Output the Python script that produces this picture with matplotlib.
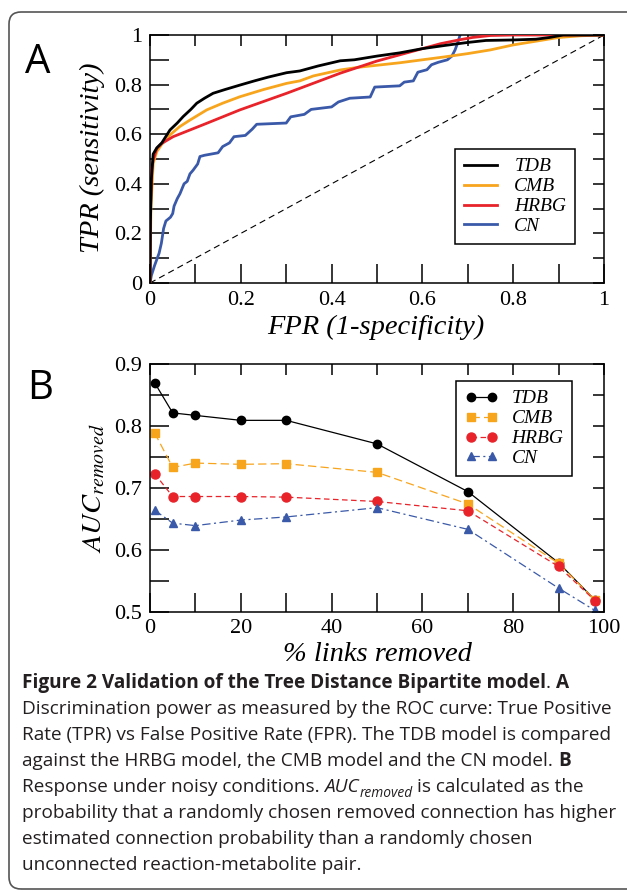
import matplotlib
matplotlib.use('Agg')
import matplotlib.pyplot as plt
from matplotlib.patches import FancyBboxPatch
from matplotlib.transforms import IdentityTransform

# ---- Panel A: ROC curves ----
tdb_fpr = [0, 0.001, 0.003, 0.007, 0.015, 0.026, 0.044, 0.06, 0.073, 0.09, 0.103, 0.12, 0.139,
           0.165, 0.198, 0.23, 0.26, 0.301, 0.33, 0.37, 0.419, 0.45, 0.5, 0.55, 0.6, 0.65, 0.7,
           0.74, 0.8, 0.85, 0.88, 0.91, 1.0]
tdb_tpr = [0, 0.25, 0.42, 0.52, 0.545, 0.565, 0.617, 0.645, 0.671, 0.7, 0.725, 0.745, 0.765,
           0.78, 0.798, 0.815, 0.83, 0.848, 0.855, 0.875, 0.896, 0.9, 0.915, 0.928, 0.945, 0.958,
           0.97, 0.978, 0.98, 0.983, 0.99, 1.0, 1.0]

cmb_fpr = [0, 0.002, 0.007, 0.015, 0.026, 0.044, 0.065, 0.088, 0.125, 0.16, 0.198, 0.25, 0.301,
           0.33, 0.36, 0.419, 0.46, 0.5, 0.55, 0.6, 0.65, 0.7, 0.75, 0.8, 0.85, 0.9, 0.95, 1.0]
cmb_tpr = [0, 0.3, 0.483, 0.53, 0.56, 0.597, 0.63, 0.657, 0.698, 0.725, 0.751, 0.78, 0.805,
           0.815, 0.835, 0.859, 0.87, 0.878, 0.888, 0.9, 0.912, 0.925, 0.94, 0.96, 0.975, 0.99,
           0.997, 1.0]

hrbg_fpr = [0, 0.001, 0.004, 0.007, 0.015, 0.026, 0.051, 0.088, 0.125, 0.198, 0.301, 0.419,
            0.5, 0.55, 0.6, 0.64, 0.68, 0.71, 0.75, 0.8, 1.0]
hrbg_tpr = [0, 0.3, 0.46, 0.496, 0.543, 0.563, 0.59, 0.617, 0.644, 0.698, 0.765, 0.846,
            0.895, 0.92, 0.945, 0.965, 0.98, 0.99, 0.998, 1.0, 1.0]

cn_fpr = [0, 0.003, 0.01, 0.02, 0.025, 0.03, 0.035, 0.045, 0.05, 0.053, 0.06, 0.066, 0.075,
          0.082, 0.088, 0.095, 0.105, 0.11, 0.12, 0.15, 0.16, 0.175, 0.185, 0.21, 0.225, 0.235,
          0.3, 0.31, 0.34, 0.355, 0.4, 0.415, 0.44, 0.485, 0.495, 0.55, 0.56, 0.58, 0.59, 0.61,
          0.62, 0.635, 0.655, 0.665, 0.672, 0.678, 0.683]
cn_tpr = [0, 0.03, 0.07, 0.12, 0.16, 0.22, 0.25, 0.265, 0.28, 0.31, 0.34, 0.36, 0.4,
          0.41, 0.44, 0.455, 0.48, 0.51, 0.515, 0.525, 0.55, 0.565, 0.59, 0.595, 0.62, 0.64,
          0.645, 0.67, 0.68, 0.7, 0.71, 0.73, 0.745, 0.75, 0.79, 0.795, 0.81, 0.815, 0.85, 0.86,
          0.88, 0.89, 0.9, 0.915, 0.94, 0.97, 1.0]

# ---- Panel B: AUC under link removal ----
removed_pct = [1, 5, 10, 20, 30, 50, 70, 90, 98]
auc_tdb = [0.870, 0.821, 0.817, 0.809, 0.809, 0.771, 0.694, 0.579, 0.519]
auc_cmb = [0.789, 0.733, 0.740, 0.738, 0.739, 0.725, 0.674, 0.578, 0.519]
auc_hrbg = [0.723, 0.686, 0.686, 0.686, 0.685, 0.678, 0.663, 0.573, 0.518]
auc_cn = [0.664, 0.643, 0.639, 0.648, 0.653, 0.668, 0.633, 0.538, 0.502]

model_names = ['TDB', 'CMB', 'HRBG', 'CN']

roc_ticks = [0, 0.2, 0.4, 0.6, 0.8, 1]
roc_ticklabels = ['0', '0.2', '0.4', '0.6', '0.8', '1']
pct_ticks = [0, 20, 40, 60, 80, 100]
auc_ticks = [0.5, 0.6, 0.7, 0.8, 0.9]
auc_ticklabels = ['0.5', '0.6', '0.7', '0.8', '0.9']

caption = [
    [("Figure 2 Validation of the Tree Distance Bipartite model", 'b'), (". ", 'n'), ("A", 'b')],
    [("Discrimination power as measured by the ROC curve: True Positive", 'n')],
    [("Rate (TPR) vs False Positive Rate (FPR). The TDB model is compared", 'n')],
    [("against the HRBG model, the CMB model and the CN model. ", 'n'), ("B", 'b')],
    [("Response under noisy conditions. ", 'n'), ("AUC", 'i'), ("removed", 'sub'),
     (" is calculated as the", 'n')],
    [("probability that a randomly chosen removed connection has higher", 'n')],
    [("estimated connection probability than a randomly chosen", 'n')],
    [("unconnected reaction-metabolite pair.", 'n')],
]

colors = {'TDB': 'black', 'CMB': '#F8A51E', 'HRBG': '#E8232A', 'CN': '#3A59A8'}
SERIF = 'Liberation Serif'
SANS = 'Open Sans'

plt.rcParams['font.family'] = SERIF
plt.rcParams['mathtext.fontset'] = 'stix'
plt.rcParams['lines.scale_dashes'] = False

W, H = 627, 893
fig = plt.figure(figsize=(W / 100, H / 100), dpi=100)


def fx(x):
    return x / W


def fy(y):
    return 1 - y / H


def style_axes(ax, xt, xminor, yt, yminor):
    ax.set_xticks(xt)
    ax.set_xticks(xminor, minor=True)
    ax.set_yticks(yt)
    ax.set_yticks(yminor, minor=True)
    ax.tick_params(which='both', direction='in', top=True, right=True, length=14, width=1.1,
                   labelsize=16, pad=5.5)
    for sp in ax.spines.values():
        sp.set_linewidth(1.1)
    # shorter ticks on top / right side
    ticks = (ax.xaxis.get_major_ticks() + ax.xaxis.get_minor_ticks() +
             ax.yaxis.get_major_ticks() + ax.yaxis.get_minor_ticks())
    for t in ticks:
        t.tick2line.set_markersize(8)


# ---- A ----
axA = fig.add_axes([fx(150), fy(283), (604 - 150) / W, (283 - 35) / H])
axA.plot([0, 1], [0, 1], color='black', lw=0.8, ls=(0, (4.5, 3)))
axA.plot(tdb_fpr, tdb_tpr, color=colors['TDB'], lw=2.0, label='TDB', zorder=4)
axA.plot(cmb_fpr, cmb_tpr, color=colors['CMB'], lw=2.0, label='CMB', zorder=3)
axA.plot(hrbg_fpr, hrbg_tpr, color=colors['HRBG'], lw=2.0, label='HRBG', zorder=3.5)
axA.plot(cn_fpr, cn_tpr, color=colors['CN'], lw=2.0, label='CN', zorder=2)
axA.set_xlim(0, 1)
axA.set_ylim(0, 1)
style_axes(axA, roc_ticks, [0.1, 0.3, 0.5, 0.7, 0.9], roc_ticks, [0.1, 0.3, 0.5, 0.7, 0.9])
axA.set_xticklabels(roc_ticklabels)
axA.set_yticklabels(roc_ticklabels)
legA = axA.legend(loc='upper left', bbox_to_anchor=(0.672, 0.54), borderaxespad=0,
                  prop={'family': SERIF, 'style': 'italic', 'size': 14}, frameon=True,
                  fancybox=False, framealpha=1, edgecolor='black', handlelength=1.7,
                  handletextpad=0.9, labelspacing=0.12, borderpad=0.45)
legA.get_frame().set_linewidth(1.1)

fig.text(fx(99), fy(158), 'TPR (sensitivity)', rotation=90, rotation_mode='anchor',
         ha='center', va='baseline', fontsize=20.5, style='italic')
fig.text(fx(376), fy(334), 'FPR (1-specificity)', ha='center', va='baseline',
         fontsize=20.5, style='italic')

# ---- B ----
axB = fig.add_axes([fx(150), fy(611.7), (604 - 150) / W, (611.7 - 364) / H])
axB.plot(removed_pct, auc_tdb, color=colors['TDB'], lw=0.9, marker='o', ms=6, label='TDB')
axB.plot(removed_pct, auc_cmb, color=colors['CMB'], lw=0.9, ls=(0, (6, 3)), marker='s', ms=5.5,
         label='CMB')
axB.plot(removed_pct, auc_hrbg, color=colors['HRBG'], lw=0.9, ls=(0, (4, 2.5)), marker='o',
         ms=6.5, label='HRBG')
axB.plot(removed_pct, auc_cn, color=colors['CN'], lw=0.9, ls=(0, (6, 2.5, 1.5, 2.5)),
         marker='^', ms=6, label='CN')
axB.set_xlim(0, 100)
axB.set_ylim(0.5, 0.9)
style_axes(axB, pct_ticks, [10, 30, 50, 70, 90], auc_ticks, [0.55, 0.65, 0.75, 0.85])
axB.set_yticklabels(auc_ticklabels)
legB = axB.legend(loc='upper left', bbox_to_anchor=(0.674, 0.931), borderaxespad=0,
                  prop={'family': SERIF, 'style': 'italic', 'size': 14}, frameon=True,
                  fancybox=False, framealpha=1, edgecolor='black', handlelength=1.7,
                  handletextpad=0.7, labelspacing=0.12, borderpad=0.45, numpoints=2)
legB.get_frame().set_linewidth(1.1)

fig.text(fx(101), fy(488), r'$AUC_{removed}$', rotation=90, rotation_mode='anchor',
         ha='center', va='baseline', fontsize=20.5)
fig.text(fx(377), fy(661), '% links removed', ha='center', va='baseline',
         fontsize=20.5, style='italic')

# panel letters
fig.text(fx(25), fy(73), 'A', family=SANS, fontsize=29, va='baseline')
fig.text(fx(27), fy(399), 'B', family=SANS, fontsize=29, va='baseline')

# ---- caption ----
renderer = fig.canvas.get_renderer()
styles = {'n': {}, 'b': {'weight': 'bold'}, 'i': {'style': 'italic'}, 'sub': {'style': 'italic'}}


def measure(s, size, **kw):
    t = fig.text(0, 0, s, family=SANS, fontsize=size, **kw)
    w = t.get_window_extent(renderer).width
    t.remove()
    return w


def space_w(size, **kw):
    return measure('| |', size, **kw) - measure('||', size, **kw)


# fit the caption size to the longest line
cap_size = 10 * 596 / measure(caption[5][0][0], 10)

for i, line in enumerate(caption):
    x = 22
    base = 688 + 26 * i
    for txt, st in line:
        size = cap_size * (0.72 if st == 'sub' else 1)
        dy = cap_size * 1.389 * 0.28 if st == 'sub' else 0
        kw = styles[st]
        sw = space_w(size, **kw)
        core = txt.strip(' ')
        lead = len(txt) - len(txt.lstrip(' '))
        trail = len(txt) - len(txt.rstrip(' '))
        x += lead * sw
        t = fig.text(fx(x), fy(base + dy), core, family=SANS, fontsize=size, va='baseline',
                     color='#231F20', **kw)
        x += t.get_window_extent(renderer).width + trail * sw

# outer rounded frame
frame = FancyBboxPatch((9, 4), 640, 877, boxstyle='round,pad=0,rounding_size=12',
                       transform=IdentityTransform(), fill=False, ec='#555555', lw=1.2)
fig.add_artist(frame)

fig.savefig('out.png', dpi=100)
